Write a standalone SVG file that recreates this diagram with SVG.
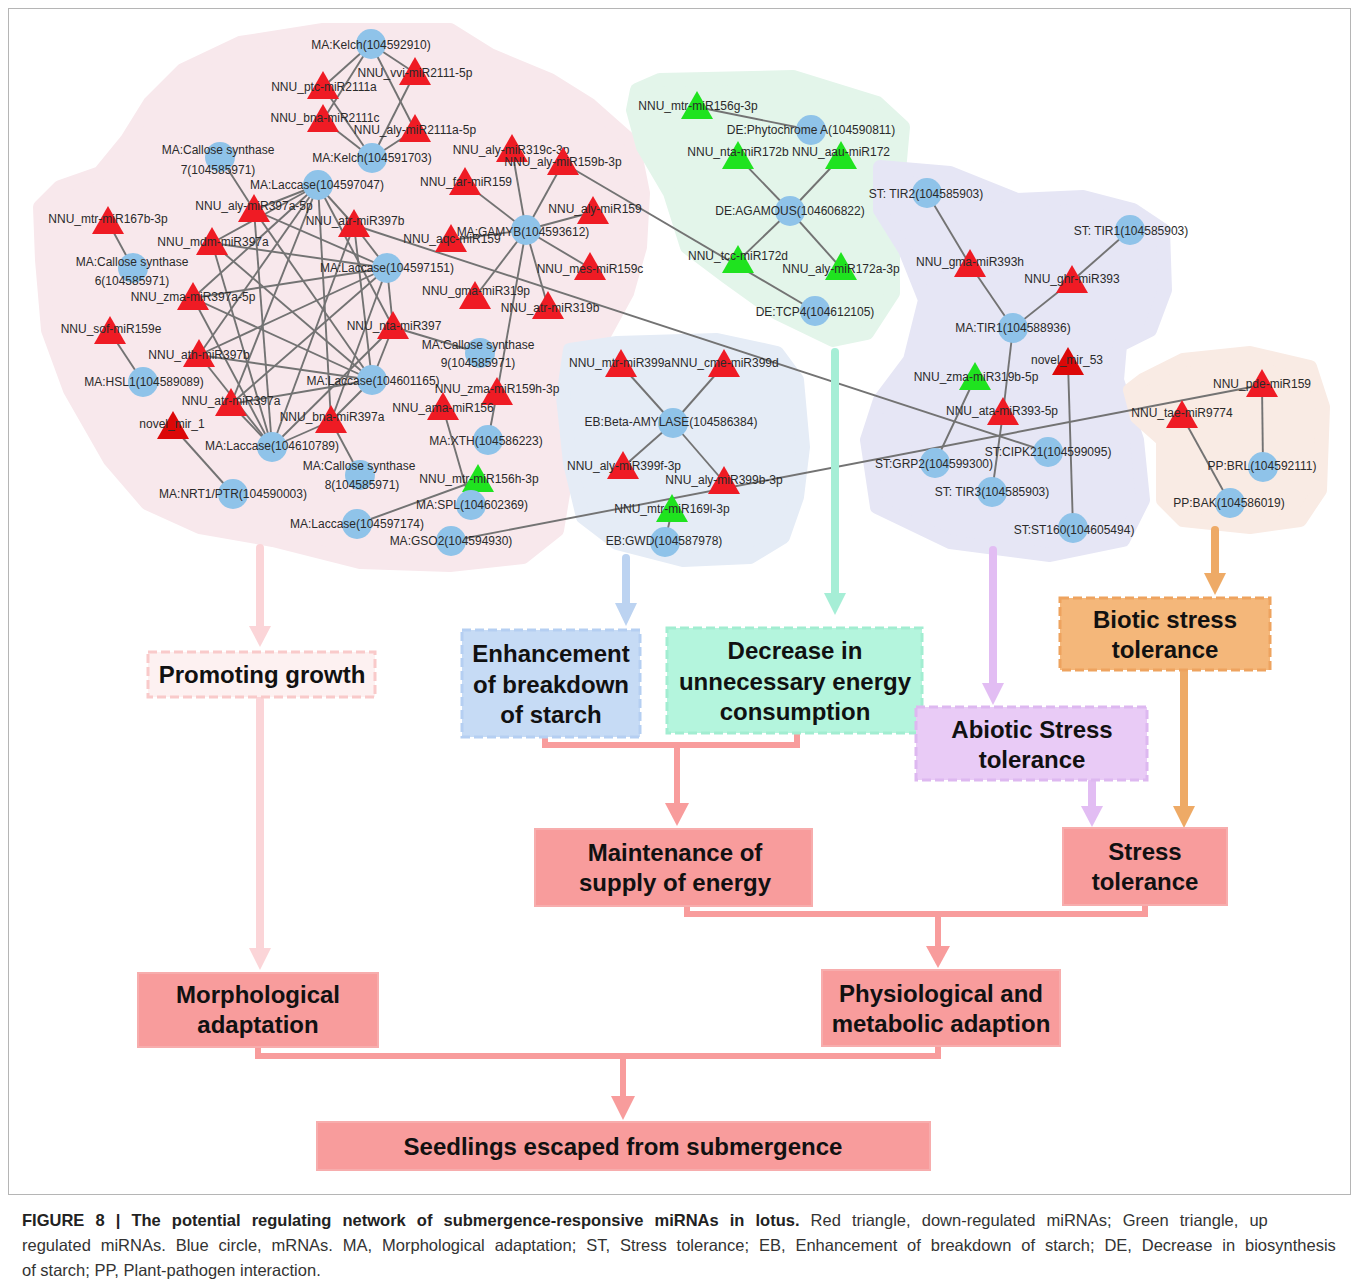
<svg xmlns="http://www.w3.org/2000/svg" xmlns:xlink="http://www.w3.org/1999/xlink" width="1358" height="1288" viewBox="0 0 1358 1288">
<style>
.e{stroke:#737373;stroke-width:1.9;fill:none}
.c{fill:#8fc3e9}
.r{fill:#ef1b24}
.g{fill:#1fe31f}
.n{fill:#dc0808}
.t{font-family:"Liberation Sans",Arial,sans-serif;font-size:12px;fill:#2a2a2a;text-anchor:middle}
.bt{font-family:"Liberation Sans",Arial,sans-serif;font-size:24px;font-weight:bold;fill:#111;text-anchor:middle}
.cap{font-family:"Liberation Sans",Arial,sans-serif;font-size:16.5px;fill:#333}
.sal{fill:#f89c9c;stroke:#f7adad;stroke-width:2}
</style>
<defs>
<path id="tri" d="M0,-16 L16,12 L-16,12 Z"/>
</defs>
<rect x="8.5" y="8.5" width="1342" height="1186" fill="#fff" stroke="#b5b5b5" stroke-width="1"/>

<g id="regions" stroke-linejoin="round" stroke-width="14">
<polygon id="region-MA" fill="#f8e8ec" stroke="#f8e8ec" points="323,30 450,30 490,55 550,80 590,105 633,143 643,193 640,247 627,293 603,337 575,365 567,400 567,470 557,530 523,557 450,565 360,562 273,540 200,527 147,503 110,460 70,390 48,330 42,260 40,207 60,187 100,173 127,140 150,103 183,70 240,43"/>
<polygon id="region-DE" fill="#e3f5ea" stroke="#e3f5ea" points="637,90 660,80 793,77 877,103 903,127 900,160 893,227 893,293 867,333 833,340 777,313 727,277 687,247 670,193 643,147 633,110"/>
<polygon id="region-ST" fill="#e6e6f5" stroke="#e6e6f5" points="880,167 950,173 1017,200 1083,197 1133,210 1163,230 1165,290 1150,330 1120,345 1117,380 1137,440 1143,500 1123,540 1050,555 950,542 877,507 867,440 880,400 910,360 925,300 905,250 880,210"/>
<polygon id="region-PP" fill="#f9ebe4" stroke="#f9ebe4" points="1130,390 1143,380 1183,360 1250,353 1310,367 1323,407 1320,490 1300,520 1250,527 1183,520 1163,500 1163,440 1137,417"/>
<polygon id="region-EB" fill="#e5ecf6" stroke="#e5ecf6" points="570,350 617,343 717,340 777,353 797,380 803,447 797,497 783,537 750,557 683,560 617,543 583,517 570,463 563,397"/>
</g>

<g id="connectors">
<g class="e">
<line x1="371" y1="44" x2="323" y2="87"/>
<line x1="371" y1="44" x2="415" y2="73"/>
<line x1="371" y1="44" x2="323" y2="120"/>
<line x1="371" y1="44" x2="415" y2="130"/>
<line x1="372" y1="158" x2="323" y2="87"/>
<line x1="372" y1="158" x2="323" y2="120"/>
<line x1="372" y1="158" x2="415" y2="73"/>
<line x1="372" y1="158" x2="415" y2="130"/>

<line x1="318" y1="185" x2="254" y2="210"/>
<line x1="318" y1="185" x2="354" y2="225"/>
<line x1="318" y1="185" x2="212" y2="243"/>
<line x1="318" y1="185" x2="193" y2="298"/>
<line x1="318" y1="185" x2="199" y2="355"/>
<line x1="318" y1="185" x2="231" y2="404"/>
<line x1="318" y1="185" x2="331" y2="421"/>
<line x1="318" y1="185" x2="393" y2="327"/>
<line x1="387" y1="268" x2="254" y2="210"/>
<line x1="387" y1="268" x2="354" y2="225"/>
<line x1="387" y1="268" x2="212" y2="243"/>
<line x1="387" y1="268" x2="193" y2="298"/>
<line x1="387" y1="268" x2="199" y2="355"/>
<line x1="387" y1="268" x2="231" y2="404"/>
<line x1="387" y1="268" x2="331" y2="421"/>
<line x1="387" y1="268" x2="393" y2="327"/>
<line x1="372" y1="380" x2="254" y2="210"/>
<line x1="372" y1="380" x2="354" y2="225"/>
<line x1="372" y1="380" x2="212" y2="243"/>
<line x1="372" y1="380" x2="193" y2="298"/>
<line x1="372" y1="380" x2="199" y2="355"/>
<line x1="372" y1="380" x2="231" y2="404"/>
<line x1="372" y1="380" x2="331" y2="421"/>
<line x1="372" y1="380" x2="393" y2="327"/>
<line x1="272" y1="447" x2="254" y2="210"/>
<line x1="272" y1="447" x2="354" y2="225"/>
<line x1="272" y1="447" x2="212" y2="243"/>
<line x1="272" y1="447" x2="193" y2="298"/>
<line x1="272" y1="447" x2="199" y2="355"/>
<line x1="272" y1="447" x2="231" y2="404"/>
<line x1="272" y1="447" x2="331" y2="421"/>
<line x1="272" y1="447" x2="393" y2="327"/>

<line x1="220" y1="157" x2="254" y2="210"/>
<line x1="360" y1="475" x2="331" y2="421"/>
<line x1="480" y1="353" x2="393" y2="327"/>
<line x1="133" y1="268" x2="108" y2="222"/>
<line x1="143" y1="382" x2="110" y2="332"/>
<line x1="233" y1="494" x2="173" y2="427"/>

<line x1="526" y1="230" x2="465" y2="183"/>
<line x1="526" y1="230" x2="512" y2="150"/>
<line x1="526" y1="230" x2="563" y2="163"/>
<line x1="526" y1="230" x2="593" y2="212"/>
<line x1="526" y1="230" x2="451" y2="240"/>
<line x1="526" y1="230" x2="590" y2="268"/>
<line x1="526" y1="230" x2="475" y2="297"/>
<line x1="526" y1="230" x2="548" y2="307"/>
<line x1="526" y1="230" x2="497" y2="393"/>
<line x1="488" y1="440" x2="497" y2="393"/>
<line x1="471" y1="505" x2="443" y2="408"/>
<line x1="471" y1="505" x2="478" y2="480"/>
<line x1="357" y1="524" x2="478" y2="480"/>

<line x1="563" y1="163" x2="815" y2="311"/>
<line x1="354" y1="225" x2="1048" y2="452"/>
<line x1="451" y1="541" x2="1262" y2="385"/>

<line x1="697" y1="107" x2="811" y2="130"/>
<line x1="790" y1="211" x2="738" y2="157"/>
<line x1="790" y1="211" x2="841" y2="157"/>
<line x1="790" y1="211" x2="738" y2="261"/>
<line x1="790" y1="211" x2="841" y2="268"/>

<line x1="927" y1="193" x2="970" y2="265"/>
<line x1="970" y1="265" x2="1013" y2="328"/>
<line x1="1130" y1="230" x2="1072" y2="281"/>
<line x1="1072" y1="281" x2="1013" y2="328"/>
<line x1="1013" y1="328" x2="1003" y2="413"/>
<line x1="1003" y1="413" x2="992" y2="492"/>
<line x1="975" y1="378" x2="935" y2="463"/>
<line x1="1068" y1="363" x2="1073" y2="528"/>

<line x1="1182" y1="416" x2="1230" y2="503"/>
<line x1="1262" y1="385" x2="1263" y2="467"/>

<line x1="673" y1="423" x2="621" y2="365"/>
<line x1="673" y1="423" x2="724" y2="365"/>
<line x1="673" y1="423" x2="623" y2="467"/>
<line x1="673" y1="423" x2="724" y2="482"/>
<line x1="672" y1="510" x2="665" y2="542"/>
</g>

<g fill="none" stroke-width="8" stroke-linecap="round">
<line x1="260" y1="548" x2="260" y2="630" stroke="#fbd5d8"/>
<line x1="260" y1="700" x2="260" y2="952" stroke="#fbd5d8"/>
<line x1="626" y1="558" x2="626" y2="607" stroke="#bcd3f1"/>
<line x1="835" y1="352" x2="835" y2="597" stroke="#a6eed6"/>
<line x1="993" y1="550" x2="993" y2="687" stroke="#e2bdf3"/>
<line x1="1092" y1="782" x2="1092" y2="810" stroke="#e2bdf3"/>
<line x1="1215" y1="530" x2="1215" y2="577" stroke="#eeaa66"/>
<line x1="1184" y1="672" x2="1184" y2="810" stroke="#eeaa66"/>
</g>
<g fill="none" stroke="#f89c9c" stroke-width="6" stroke-linejoin="miter">
<polyline points="545,737 545,745 797,745 797,733"/>
<line x1="677" y1="745" x2="677" y2="806"/>
<polyline points="687,906 687,914 1145,914 1145,905"/>
<line x1="938" y1="914" x2="938" y2="950"/>
<polyline points="258,1047 258,1056 938,1056 938,1046"/>
<line x1="623" y1="1056" x2="623" y2="1100"/>
</g>
<polygon points="249,626 271,626 260,647" fill="#fbd5d8"/>
<polygon points="249,948 271,948 260,970" fill="#fbd5d8"/>
<polygon points="615,603 637,603 626,626" fill="#bcd3f1"/>
<polygon points="824,593 846,593 835,615" fill="#a6eed6"/>
<polygon points="982,683 1004,683 993,705" fill="#e2bdf3"/>
<polygon points="1081,806 1103,806 1092,827" fill="#e2bdf3"/>
<polygon points="1204,573 1226,573 1215,595" fill="#eeaa66"/>
<polygon points="1173,806 1195,806 1184,828" fill="#eeaa66"/>
<polygon points="665,803 689,803 677,826" fill="#f89c9c"/>
<polygon points="926,946 950,946 938,968" fill="#f89c9c"/>
<polygon points="611,1096 635,1096 623,1120" fill="#f89c9c"/>
</g>

<g id="nodes">
<g id="n-kelch1"><circle class="c" cx="371" cy="44" r="15"/><text class="t" x="371" y="49">MA:Kelch(104592910)</text></g>
<g id="n-ptc2111a"><use href="#tri" x="323" y="87" class="r"/><text class="t" x="324" y="91">NNU_ptc-miR2111a</text></g>
<g id="n-vvi2111"><use href="#tri" x="415" y="73" class="r"/><text class="t" x="415" y="77">NNU_vvi-miR2111-5p</text></g>
<g id="n-bna2111c"><use href="#tri" x="323" y="120" class="r"/><text class="t" x="325" y="122">NNU_bna-miR2111c</text></g>
<g id="n-aly2111a"><use href="#tri" x="415" y="130" class="r"/><text class="t" x="415" y="134">NNU_aly-miR2111a-5p</text></g>
<g id="n-kelch2"><circle class="c" cx="372" cy="158" r="15"/><text class="t" x="372" y="162">MA:Kelch(104591703)</text></g>
<g id="n-cal7"><circle class="c" cx="220" cy="157" r="15"/><text class="t" x="218" y="154">MA:Callose synthase</text><text class="t" x="218" y="174">7(104585971)</text></g>
<g id="n-lac47"><circle class="c" cx="318" cy="185" r="15"/><text class="t" x="317" y="189">MA:Laccase(104597047)</text></g>
<g id="n-far159"><use href="#tri" x="465" y="183" class="r"/><text class="t" x="466" y="186">NNU_far-miR159</text></g>
<g id="n-aly319c"><use href="#tri" x="512" y="150" class="r"/><text class="t" x="511" y="154">NNU_aly-miR319c-3p</text></g>
<g id="n-aly159b"><use href="#tri" x="563" y="163" class="r"/><text class="t" x="563" y="166">NNU_aly-miR159b-3p</text></g>
<g id="n-aly397a5p"><use href="#tri" x="254" y="210" class="r"/><text class="t" x="254" y="210">NNU_aly-miR397a-5p</text></g>
<g id="n-mtr167b"><use href="#tri" x="108" y="222" class="r"/><text class="t" x="108" y="223">NNU_mtr-miR167b-3p</text></g>
<g id="n-atr397b"><use href="#tri" x="354" y="225" class="r"/><text class="t" x="355" y="225">NNU_atr-miR397b</text></g>
<g id="n-mdm397a"><use href="#tri" x="212" y="243" class="r"/><text class="t" x="213" y="246">NNU_mdm-miR397a</text></g>
<g id="n-aqc159"><use href="#tri" x="451" y="240" class="r"/><text class="t" x="452" y="243">NNU_aqc-miR159</text></g>
<g id="n-gamyb"><circle class="c" cx="526" cy="230" r="15"/><text class="t" x="523" y="236">MA:GAMYB(104593612)</text></g>
<g id="n-aly159"><use href="#tri" x="593" y="212" class="r"/><text class="t" x="595" y="213">NNU_aly-miR159</text></g>
<g id="n-mes159c"><use href="#tri" x="590" y="268" class="r"/><text class="t" x="590" y="273">NNU_mes-miR159c</text></g>
<g id="n-cal6"><circle class="c" cx="133" cy="268" r="15"/><text class="t" x="132" y="266">MA:Callose synthase</text><text class="t" x="132" y="285">6(104585971)</text></g>
<g id="n-lac51"><circle class="c" cx="387" cy="268" r="15"/><text class="t" x="387" y="272">MA:Laccase(104597151)</text></g>
<g id="n-zma397a"><use href="#tri" x="193" y="298" class="r"/><text class="t" x="193" y="301">NNU_zma-miR397a-5p</text></g>
<g id="n-gma319p"><use href="#tri" x="475" y="297" class="r"/><text class="t" x="476" y="295">NNU_gma-miR319p</text></g>
<g id="n-atr319b"><use href="#tri" x="548" y="307" class="r"/><text class="t" x="550" y="312">NNU_atr-miR319b</text></g>
<g id="n-sof159e"><use href="#tri" x="110" y="332" class="r"/><text class="t" x="111" y="333">NNU_sof-miR159e</text></g>
<g id="n-nta397"><use href="#tri" x="393" y="327" class="r"/><text class="t" x="394" y="330">NNU_nta-miR397</text></g>
<g id="n-cal9"><circle class="c" cx="480" cy="353" r="15"/><text class="t" x="478" y="349">MA:Callose synthase</text><text class="t" x="478" y="367">9(104585971)</text></g>
<g id="n-ath397b"><use href="#tri" x="199" y="355" class="r"/><text class="t" x="199" y="359">NNU_ath-miR397b</text></g>
<g id="n-hsl1"><circle class="c" cx="143" cy="382" r="15"/><text class="t" x="144" y="386">MA:HSL1(104589089)</text></g>
<g id="n-lac65"><circle class="c" cx="372" cy="380" r="15"/><text class="t" x="373" y="385">MA:Laccase(104601165)</text></g>
<g id="n-zma159h"><use href="#tri" x="497" y="393" class="r"/><text class="t" x="497" y="393">NNU_zma-miR159h-3p</text></g>
<g id="n-atr397a"><use href="#tri" x="231" y="404" class="r"/><text class="t" x="231" y="405">NNU_atr-miR397a</text></g>
<g id="n-bna397a"><use href="#tri" x="331" y="421" class="r"/><text class="t" x="332" y="421">NNU_bna-miR397a</text></g>
<g id="n-ama156"><use href="#tri" x="443" y="408" class="r"/><text class="t" x="443" y="412">NNU_ama-miR156</text></g>
<g id="n-novel1"><use href="#tri" x="173" y="427" class="n"/><text class="t" x="172" y="428">novel_mir_1</text></g>
<g id="n-lac89"><circle class="c" cx="272" cy="447" r="15"/><text class="t" x="272" y="450">MA:Laccase(104610789)</text></g>
<g id="n-xth"><circle class="c" cx="488" cy="440" r="15"/><text class="t" x="486" y="445">MA:XTH(104586223)</text></g>
<g id="n-cal8"><circle class="c" cx="360" cy="475" r="15"/><text class="t" x="359" y="470">MA:Callose synthase</text><text class="t" x="362" y="489">8(104585971)</text></g>
<g id="n-mtr156h"><use href="#tri" x="478" y="480" class="g"/><text class="t" x="479" y="483">NNU_mtr-miR156h-3p</text></g>
<g id="n-nrt1"><circle class="c" cx="233" cy="494" r="15"/><text class="t" x="233" y="498">MA:NRT1/PTR(104590003)</text></g>
<g id="n-spl"><circle class="c" cx="471" cy="505" r="15"/><text class="t" x="472" y="509">MA:SPL(104602369)</text></g>
<g id="n-lac74"><circle class="c" cx="357" cy="524" r="15"/><text class="t" x="357" y="528">MA:Laccase(104597174)</text></g>
<g id="n-gso2"><circle class="c" cx="451" cy="541" r="15"/><text class="t" x="451" y="545">MA:GSO2(104594930)</text></g>

<g id="n-mtr156g"><use href="#tri" x="697" y="107" class="g"/><text class="t" x="698" y="110">NNU_mtr-miR156g-3p</text></g>
<g id="n-phyA"><circle class="c" cx="811" cy="130" r="15"/><text class="t" x="811" y="134">DE:Phytochrome A(104590811)</text></g>
<g id="n-nta172b"><use href="#tri" x="738" y="157" class="g"/><text class="t" x="738" y="156">NNU_nta-miR172b</text></g>
<g id="n-aau172"><use href="#tri" x="841" y="157" class="g"/><text class="t" x="841" y="156">NNU_aau-miR172</text></g>
<g id="n-agamous"><circle class="c" cx="790" cy="211" r="15"/><text class="t" x="790" y="215">DE:AGAMOUS(104606822)</text></g>
<g id="n-tcc172d"><use href="#tri" x="738" y="261" class="g"/><text class="t" x="738" y="260">NNU_tcc-miR172d</text></g>
<g id="n-aly172a"><use href="#tri" x="841" y="268" class="g"/><text class="t" x="841" y="273">NNU_aly-miR172a-3p</text></g>
<g id="n-tcp4"><circle class="c" cx="815" cy="311" r="15"/><text class="t" x="815" y="316">DE:TCP4(104612105)</text></g>

<g id="n-tir2"><circle class="c" cx="927" cy="193" r="15"/><text class="t" x="926" y="198">ST: TIR2(104585903)</text></g>
<g id="n-tir1st"><circle class="c" cx="1130" cy="230" r="15"/><text class="t" x="1131" y="235">ST: TIR1(104585903)</text></g>
<g id="n-gma393h"><use href="#tri" x="970" y="265" class="r"/><text class="t" x="970" y="266">NNU_gma-miR393h</text></g>
<g id="n-ghr393"><use href="#tri" x="1072" y="281" class="r"/><text class="t" x="1072" y="283">NNU_ghr-miR393</text></g>
<g id="n-matir1"><circle class="c" cx="1013" cy="328" r="15"/><text class="t" x="1013" y="332">MA:TIR1(104588936)</text></g>
<g id="n-novel53"><use href="#tri" x="1068" y="363" class="n"/><text class="t" x="1067" y="364">novel_mir_53</text></g>
<g id="n-zma319b"><use href="#tri" x="975" y="378" class="g"/><text class="t" x="976" y="381">NNU_zma-miR319b-5p</text></g>
<g id="n-ata393"><use href="#tri" x="1003" y="413" class="r"/><text class="t" x="1002" y="415">NNU_ata-miR393-5p</text></g>
<g id="n-cipk21"><circle class="c" cx="1048" cy="452" r="15"/><text class="t" x="1048" y="456">ST:CIPK21(104599095)</text></g>
<g id="n-grp2"><circle class="c" cx="935" cy="463" r="15"/><text class="t" x="934" y="468">ST:GRP2(104599300)</text></g>
<g id="n-tir3"><circle class="c" cx="992" cy="492" r="15"/><text class="t" x="992" y="496">ST: TIR3(104585903)</text></g>
<g id="n-st160"><circle class="c" cx="1073" cy="528" r="15"/><text class="t" x="1074" y="534">ST:ST160(104605494)</text></g>

<g id="n-pde159"><use href="#tri" x="1262" y="385" class="r"/><text class="t" x="1262" y="388">NNU_pde-miR159</text></g>
<g id="n-tae9774"><use href="#tri" x="1182" y="416" class="r"/><text class="t" x="1182" y="417">NNU_tae-miR9774</text></g>
<g id="n-brl"><circle class="c" cx="1263" cy="467" r="15"/><text class="t" x="1262" y="470">PP:BRL(104592111)</text></g>
<g id="n-bak"><circle class="c" cx="1230" cy="503" r="15"/><text class="t" x="1229" y="507">PP:BAK(104586019)</text></g>

<g id="n-mtr399a"><use href="#tri" x="621" y="365" class="r"/><text class="t" x="620" y="367">NNU_mtr-miR399a</text></g>
<g id="n-cme399d"><use href="#tri" x="724" y="365" class="r"/><text class="t" x="725" y="367">NNU_cme-miR399d</text></g>
<g id="n-beta"><circle class="c" cx="673" cy="423" r="15"/><text class="t" x="671" y="426">EB:Beta-AMYLASE(104586384)</text></g>
<g id="n-aly399f"><use href="#tri" x="623" y="467" class="r"/><text class="t" x="624" y="470">NNU_aly-miR399f-3p</text></g>
<g id="n-aly399b"><use href="#tri" x="724" y="482" class="r"/><text class="t" x="724" y="484">NNU_aly-miR399b-3p</text></g>
<g id="n-mtr169l"><use href="#tri" x="672" y="510" class="g"/><text class="t" x="672" y="513">NNU_mtr-miR169l-3p</text></g>
<g id="n-gwd"><circle class="c" cx="665" cy="542" r="15"/><text class="t" x="664" y="545">EB:GWD(104587978)</text></g>

<g id="b-promoting"><rect x="148" y="652" width="227" height="45" fill="#fdf1f1" stroke="#f9caca" stroke-width="3" stroke-dasharray="9,4"/><text class="bt" x="262" y="683">Promoting growth</text></g>
<g id="b-enhancement"><rect x="462" y="630" width="178" height="107" fill="#c6dbf5" stroke="#b5cff2" stroke-width="3" stroke-dasharray="9,4"/><text class="bt" x="551" y="662">Enhancement</text><text class="bt" x="551" y="693">of breakdown</text><text class="bt" x="551" y="723">of starch</text></g>
<g id="b-decrease"><rect x="667" y="628" width="255" height="105" fill="#b4f5dd" stroke="#a2edd1" stroke-width="3" stroke-dasharray="9,4"/><text class="bt" x="795" y="659">Decrease in</text><text class="bt" x="795" y="690">unnecessary energy</text><text class="bt" x="795" y="720">consumption</text></g>
<g id="b-abiotic"><rect x="916" y="707" width="231" height="73" fill="#e9cbf6" stroke="#ddb8f0" stroke-width="3" stroke-dasharray="9,4"/><text class="bt" x="1032" y="738">Abiotic Stress</text><text class="bt" x="1032" y="768">tolerance</text></g>
<g id="b-biotic"><rect x="1060" y="598" width="210" height="72" fill="#f4b77a" stroke="#eea35f" stroke-width="3" stroke-dasharray="9,4"/><text class="bt" x="1165" y="628">Biotic stress</text><text class="bt" x="1165" y="658">tolerance</text></g>
<g id="b-maintenance"><rect class="sal" x="535" y="829" width="277" height="77"/><text class="bt" x="675" y="861">Maintenance of</text><text class="bt" x="675" y="891">supply of energy</text></g>
<g id="b-stress"><rect class="sal" x="1063" y="828" width="164" height="77"/><text class="bt" x="1145" y="860">Stress</text><text class="bt" x="1145" y="890">tolerance</text></g>
<g id="b-morph"><rect class="sal" x="138" y="973" width="240" height="74"/><text class="bt" x="258" y="1003">Morphological</text><text class="bt" x="258" y="1033">adaptation</text></g>
<g id="b-physio"><rect class="sal" x="822" y="970" width="238" height="76"/><text class="bt" x="941" y="1002">Physiological and</text><text class="bt" x="941" y="1032">metabolic adaption</text></g>
<g id="b-seedlings"><rect class="sal" x="317" y="1122" width="613" height="48"/><text class="bt" x="623" y="1155">Seedlings escaped from submergence</text></g>
</g>

<g id="caption">
<text class="cap" x="22" y="1226" word-spacing="6.5"><tspan font-weight="bold" fill="#222">FIGURE 8 | The potential regulating network of submergence-responsive miRNAs in lotus.</tspan> Red triangle, down-regulated miRNAs; Green triangle, up</text>
<text class="cap" x="22" y="1251" word-spacing="5.3">regulated miRNAs. Blue circle, mRNAs. MA, Morphological adaptation; ST, Stress tolerance; EB, Enhancement of breakdown of starch; DE, Decrease in biosynthesis</text>
<text class="cap" x="22" y="1276">of starch; PP, Plant-pathogen interaction.</text>
</g>
</svg>
